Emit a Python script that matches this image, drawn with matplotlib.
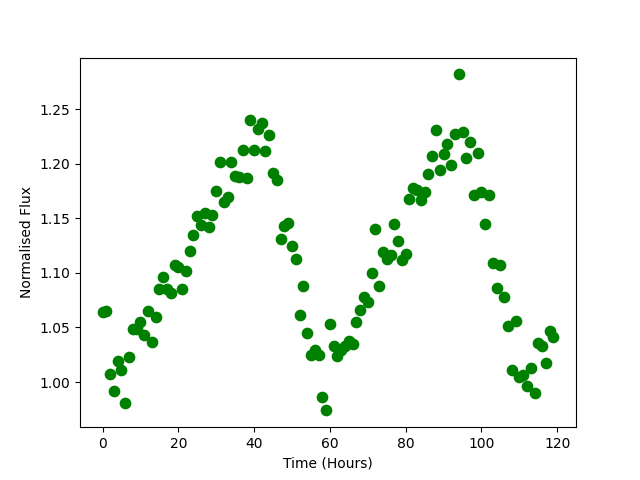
import matplotlib
matplotlib.use('Agg')
import matplotlib.pyplot as plt

hours = list(range(120))

flux = [
    1.064, 1.065, 1.007, 0.992, 1.019, 1.011, 0.981, 1.023, 1.049, 1.049,
    1.055, 1.043, 1.065, 1.037, 1.060, 1.085, 1.096, 1.085, 1.082, 1.107,
    1.105, 1.085, 1.102, 1.120, 1.135, 1.152, 1.144, 1.155, 1.142, 1.153,
    1.175, 1.202, 1.165, 1.170, 1.202, 1.189, 1.188, 1.213, 1.187, 1.240,
    1.213, 1.232, 1.237, 1.212, 1.226, 1.192, 1.185, 1.131, 1.143, 1.146,
    1.125, 1.113, 1.061, 1.088, 1.045, 1.025, 1.029, 1.025, 0.986, 0.974,
    1.053, 1.033, 1.024, 1.029, 1.033, 1.038, 1.035, 1.055, 1.066, 1.078,
    1.073, 1.100, 1.140, 1.088, 1.119, 1.113, 1.116, 1.145, 1.129, 1.112,
    1.117, 1.168, 1.178, 1.176, 1.167, 1.174, 1.191, 1.207, 1.231, 1.194,
    1.209, 1.218, 1.199, 1.227, 1.282, 1.229, 1.205, 1.220, 1.171, 1.210,
    1.174, 1.145, 1.171, 1.109, 1.086, 1.107, 1.078, 1.051, 1.011, 1.056,
    1.005, 1.006, 0.996, 1.013, 0.990, 1.036, 1.033, 1.017, 1.047, 1.041,
]

fig, ax = plt.subplots(figsize=(6.4, 4.8), dpi=100)
ax.scatter(hours, flux, color='green', s=55)
ax.set_xlabel('Time (Hours)')
ax.set_ylabel('Normalised Flux')
fig.savefig('out.png')
